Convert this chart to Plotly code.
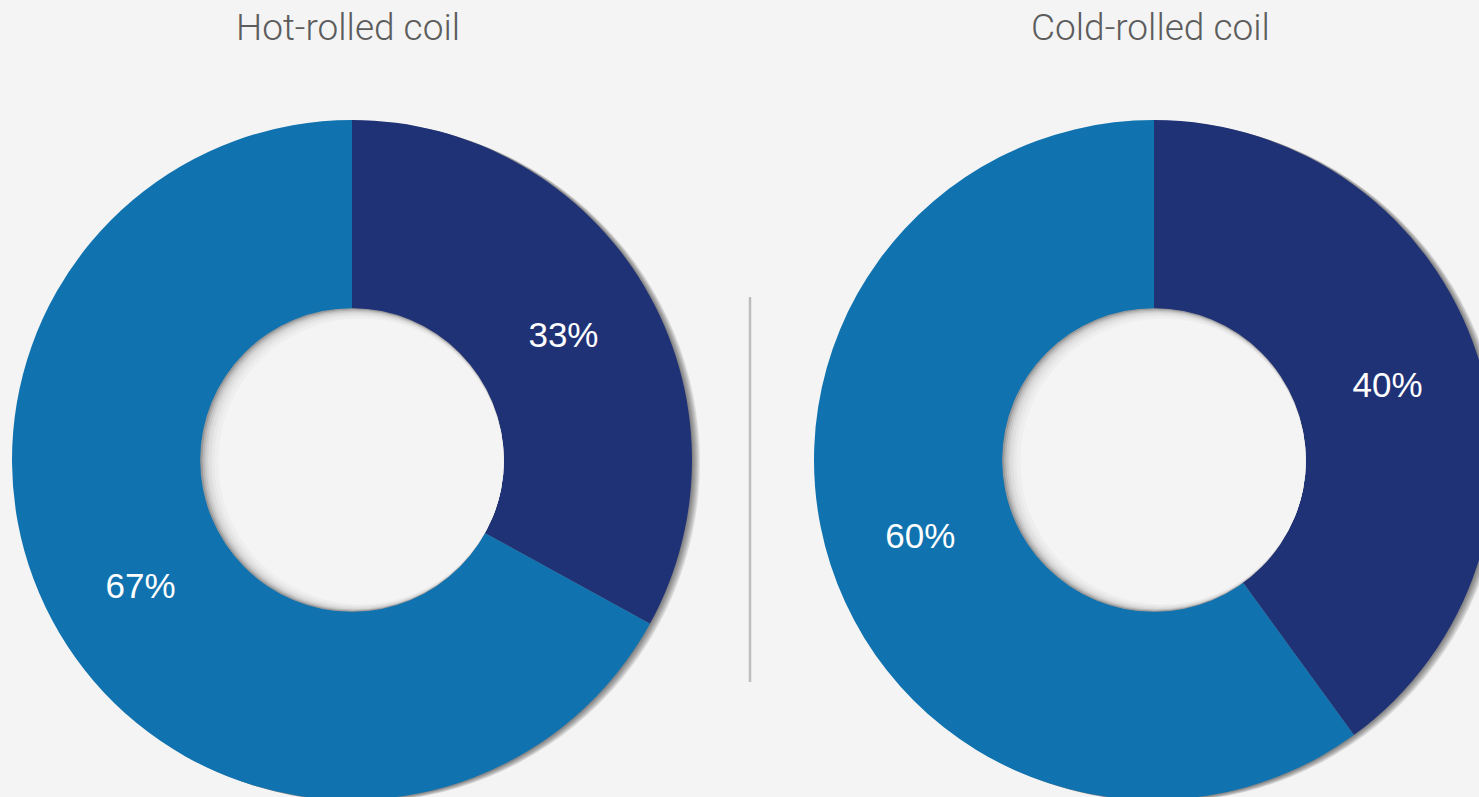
import plotly.graph_objects as go

# datos
titles = ['Hot-rolled coil', 'Cold-rolled coil']
segments = ['Otro', 'Principal']
hot_values = [33, 67]
cold_values = [40, 60]
colors = ['#203276', '#1073b0']

BG = '#f4f4f4'
W, H = 1520, 820          # un poco mas grande que la ventana: los aros quedan cortados
R_OUT = 340
HOLE = 0.445
R_IN = R_OUT * HOLE


def domain(cx, cy, r):
    """Dominio (en papel) de un pie centrado en cx, cy (px desde arriba-izquierda)"""
    return dict(x=[(cx - r) / W, (cx + r) / W],
                y=[(H - cy - r) / H, (H - cy + r) / H])


def disk(cx, cy, r, color, opacity):
    return go.Pie(values=[1], marker=dict(colors=[color], line=dict(width=0)),
                  domain=domain(cx, cy, r), textinfo='none', hoverinfo='skip',
                  opacity=opacity, sort=False)


fig = go.Figure()

centers = [(352, 460), (1154, 460)]
for (cx, cy), title, values in zip(centers, titles, [hot_values, cold_values]):
    # sombra exterior (desplazada a la derecha)
    for off in [1, 2, 3, 4, 5, 6, 7, 8]:
        fig.add_trace(disk(cx + off, cy + off * 0.3, R_OUT, '#222222', 0.085))

    # dona principal
    fig.add_trace(go.Pie(
        labels=segments,
        values=values,
        hole=HOLE,
        marker=dict(colors=colors, line=dict(width=0)),
        domain=domain(cx, cy, R_OUT),
        sort=False,
        direction='clockwise',
        rotation=0,
        texttemplate='%{percent:.0%}',
        textposition='inside',
        insidetextorientation='horizontal',
        textfont=dict(family='Liberation Sans, Arial, sans-serif', size=35, color='white'),
        hoverinfo='label+percent',
    ))

    # sombra interior del hueco
    fig.add_trace(disk(cx, cy, R_IN + 0.5, '#999999', 1))
    for off, op in [(1, 0.3), (2, 0.3), (3, 0.3), (4, 0.35), (5.5, 0.4), (7, 0.5), (9, 1)]:
        fig.add_trace(disk(cx + off, cy + off * 0.15, R_IN + 0.5 - off, BG, op))

    fig.add_annotation(
        text=title, x=(cx - 4) / W, y=(H - 27) / H, xref='paper', yref='paper',
        xanchor='center', yanchor='middle', showarrow=False,
        font=dict(family='Roboto, Liberation Sans, sans-serif', size=37,
                  color='#5c5c5c', weight=300),
    )

# linea divisoria
fig.add_shape(type='line', xref='paper', yref='paper',
              x0=750 / W, x1=750 / W, y0=(H - 297) / H, y1=(H - 682) / H,
              line=dict(color='#bdbdbd', width=2.5))

fig.update_layout(
    width=W, height=H,
    margin=dict(l=0, r=0, t=0, b=0),
    paper_bgcolor=BG,
    plot_bgcolor=BG,
    showlegend=False,
)

fig.write_html('out.html', config={'displayModeBar': False},
               post_script="document.body.style.margin='0';document.body.style.overflow='hidden';")
